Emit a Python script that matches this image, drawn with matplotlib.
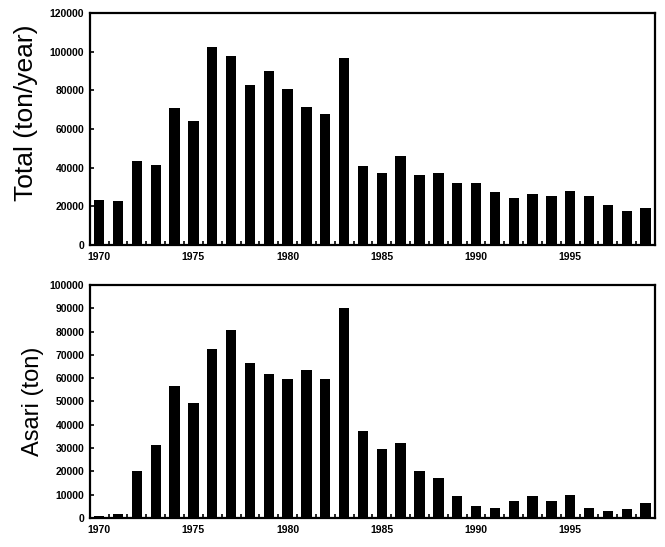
import numpy as np
from matplotlib import pyplot as plt
from matplotlib.ticker import MultipleLocator

years = list(range(1970, 2000))
total = [23500, 23000, 43500, 41500, 71000, 64000, 102500, 98000, 83000, 90000,
         81000, 71500, 68000, 97000, 41000, 37500, 46000, 36500, 37500, 32000,
         32000, 27500, 24500, 26500, 25500, 28000, 25500, 20500, 17500, 19000]
asari = [1000, 1700, 20000, 31500, 56500, 49500, 72500, 80500, 66500, 62000,
         59500, 63500, 59500, 90000, 37500, 29500, 32000, 20000, 17000, 9300,
         5200, 4200, 7500, 9500, 7500, 10000, 4300, 3200, 3900, 6500]
xlabels = [1970, 1975, 1980, 1985, 1990, 1995]

plt.rcParams["font.family"] = ["Liberation Sans", "DejaVu Sans"]

fig = plt.figure(figsize=(6.65, 5.47), dpi=100)
ax1 = fig.add_axes([0.135, 0.552, 0.85, 0.424])
ax2 = fig.add_axes([0.135, 0.053, 0.85, 0.426])

def style(ax, data, ymax, ystep, label, lsize):
    ax.bar(years, data, width=0.55, color="black")
    ax.set_xlim(1969.5, 1999.45)
    ax.set_ylim(0, ymax)
    ax.yaxis.set_major_locator(MultipleLocator(ystep))
    ax.set_xticks(xlabels)
    ax.set_xticklabels([str(x) for x in xlabels], fontsize=7.5, fontweight="bold")
    ax.set_xticks(np.array(years) + 0.5, minor=True)
    for t in ax.get_yticklabels():
        t.set_fontsize(7.5)
        t.set_fontweight("bold")
    ax.tick_params(axis="both", which="major", direction="in", length=3, width=1.2, pad=4)
    ax.tick_params(axis="x", which="major", length=0, pad=5)
    ax.tick_params(axis="x", which="minor", direction="in", length=3, width=1.2)
    for s in ax.spines.values():
        s.set_linewidth(1.6)
    ax.set_ylabel(label, fontsize=lsize, labelpad=4)

style(ax1, total, 120000, 20000, "Total (ton/year)", 19)
style(ax2, asari, 100000, 10000, "Asari (ton)", 17)
ax1.yaxis.set_label_coords(-0.092, 0.57)

fig.savefig("out.png", dpi=100)
